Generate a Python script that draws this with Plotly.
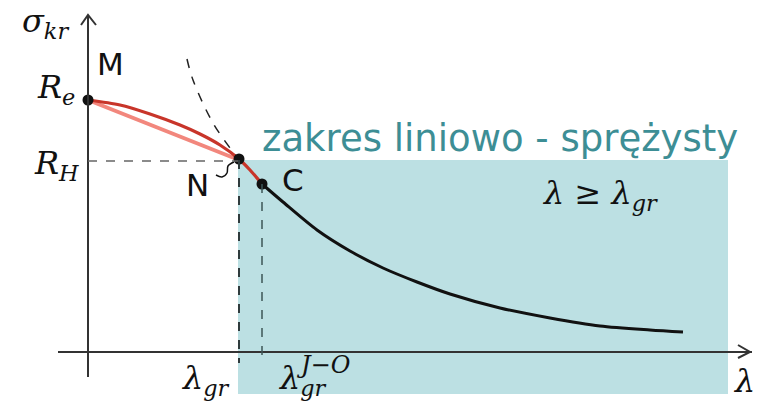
import plotly.graph_objects as go

# --- chart values (slenderness λ, critical stress σ_kr; schematic units) ---
R_e = 252          # yield point, point M
R_H = 192          # proportionality limit
lam_gr = 151       # λ_gr, point N
lam_gr_JO = 174    # λ_gr^(J-O), point C
sigma_C = 168

# Euler hyperbola (solid part, from C onwards)
euler_lam = [174, 195, 229, 262, 295, 329, 362, 412, 462, 512, 562, 595]
euler_sig = [168, 150, 122, 101, 84, 70, 58, 44, 34, 26, 22, 20]

# Euler hyperbola continued above N (not valid there, dashed)
euler_up_lam = [99, 105, 125, 145, 151]
euler_up_sig = [293, 272, 229, 200, 192]

# Tetmajer-Jasiński straight line M -> N
tj_lam = [0, 151]
tj_sig = [252, 192]

# Johnson-Ostenfeld parabola M -> C
jo_lam = [0, 32, 62, 92, 112, 132, 151, 162, 174]
jo_sig = [252, 247, 238, 227, 218, 207, 193, 182, 168]

# elastic range box
box_lam = [150, 640]
box_sig = [-42, R_H]

W, H = 758, 406
X0, Y0 = 88, 352  # where the axes cross, in page pixels

AXIS = "#333333"
TEAL_FILL = "#bce0e3"
TEAL_TEXT = "#3d8e95"
DARK_RED = "#c8352a"
LIGHT_RED = "#f2877d"
MATH = "DejaVu Serif"
SANS = "DejaVu Sans"

fig = go.Figure()

shapes = [
    # elastic range box
    dict(type="rect", x0=box_lam[0], x1=box_lam[1], y0=box_sig[0], y1=box_sig[1],
         fillcolor=TEAL_FILL, line=dict(width=0), layer="below"),
    # axes
    dict(type="line", x0=-30, x1=664, y0=0, y1=0, line=dict(color=AXIS, width=2)),
    dict(type="line", x0=0, x1=0, y0=-25, y1=337, line=dict(color=AXIS, width=2)),
    # arrow heads
    dict(type="path", path="M -7,327 L 0,337 L 8,327", line=dict(color=AXIS, width=2)),
    dict(type="path", path="M 650,7 L 662,0 L 650,-6", line=dict(color=AXIS, width=2)),
    # R_H guide
    dict(type="line", x0=0, x1=lam_gr, y0=R_H - 1, y1=R_H - 1,
         line=dict(color="#666666", width=1.5, dash="dash")),
    # λ_gr and λ_gr^(J-O) guides
    dict(type="line", x0=lam_gr, x1=lam_gr, y0=R_H, y1=-11,
         line=dict(color="#2f3b3d", width=2, dash="dash")),
    dict(type="line", x0=lam_gr_JO, x1=lam_gr_JO, y0=sigma_C, y1=-9,
         line=dict(color="#3d5557", width=1.5, dash="dash")),
]

# Euler curve, dashed continuation
fig.add_trace(go.Scatter(x=euler_up_lam, y=euler_up_sig, mode="lines",
                         line=dict(color="#222222", width=1.5, dash="dash", shape="spline"),
                         hoverinfo="skip"))
# Tetmajer-Jasiński line
fig.add_trace(go.Scatter(x=tj_lam, y=tj_sig, mode="lines",
                         line=dict(color=LIGHT_RED, width=4), hoverinfo="skip"))
# Johnson-Ostenfeld parabola
fig.add_trace(go.Scatter(x=jo_lam, y=jo_sig, mode="lines",
                         line=dict(color=DARK_RED, width=3.2, shape="spline", smoothing=0.8),
                         hoverinfo="skip"))
# Euler curve
fig.add_trace(go.Scatter(x=euler_lam, y=euler_sig, mode="lines",
                         line=dict(color="#111111", width=3, shape="spline", smoothing=0.8),
                         hoverinfo="skip"))
# small hook linking label N to its point
fig.add_trace(go.Scatter(x=[128, 134, 139, 140, 146], y=[177, 175, 179, 186, 190], mode="lines",
                         line=dict(color="#111111", width=1.5, shape="spline"), hoverinfo="skip"))
# points M, N, C
fig.add_trace(go.Scatter(x=[0, lam_gr, lam_gr_JO], y=[R_e, R_H + 1, sigma_C], mode="markers",
                         marker=dict(color="#111111", size=11), hoverinfo="skip"))

def label(x, y, text, size, family=MATH, color="#111111", xanchor="center", yanchor="middle"):
    return dict(x=x, y=y, xref="x", yref="y", text=text, showarrow=False,
                font=dict(family=family, size=size, color=color),
                xanchor=xanchor, yanchor=yanchor)

annotations = [
    label(-43, 329, "<i>σ<sub>kr</sub></i>", 32),
    label(22, 288, "M", 31, family=SANS),
    label(-32, 263, "<i>R<sub>e</sub></i>", 32),
    label(-32, 187, "<i>R<sub>H</sub></i>", 32),
    label(109, 167, "N", 31, family=SANS),
    label(205, 172, "C", 31, family=SANS),
    label(412, 214, "zakres liniowo - sprężysty", 37, family=SANS, color=TEAL_TEXT),
    label(512, 157, "<i>λ ≥ λ<sub>gr</sub></i>", 32),
    label(117, -28, "<i>λ<sub>gr</sub></i>", 32),
    label(188, -28, "<i>λ<sub>gr</sub></i>", 32, xanchor="left"),
    label(206, -13, "<i>J−O</i>", 24, xanchor="left"),
    label(656, -29, "<i>λ</i>", 32),
]

fig.update_layout(
    width=W, height=H,
    margin=dict(l=0, r=0, t=0, b=0),
    paper_bgcolor="white", plot_bgcolor="white",
    showlegend=False,
    xaxis=dict(range=[-X0, W - X0], visible=False, fixedrange=True),
    yaxis=dict(range=[Y0 - H, Y0], visible=False, fixedrange=True),
    shapes=shapes,
    annotations=annotations,
)

fig.write_html("out.html", config=dict(displayModeBar=False))
